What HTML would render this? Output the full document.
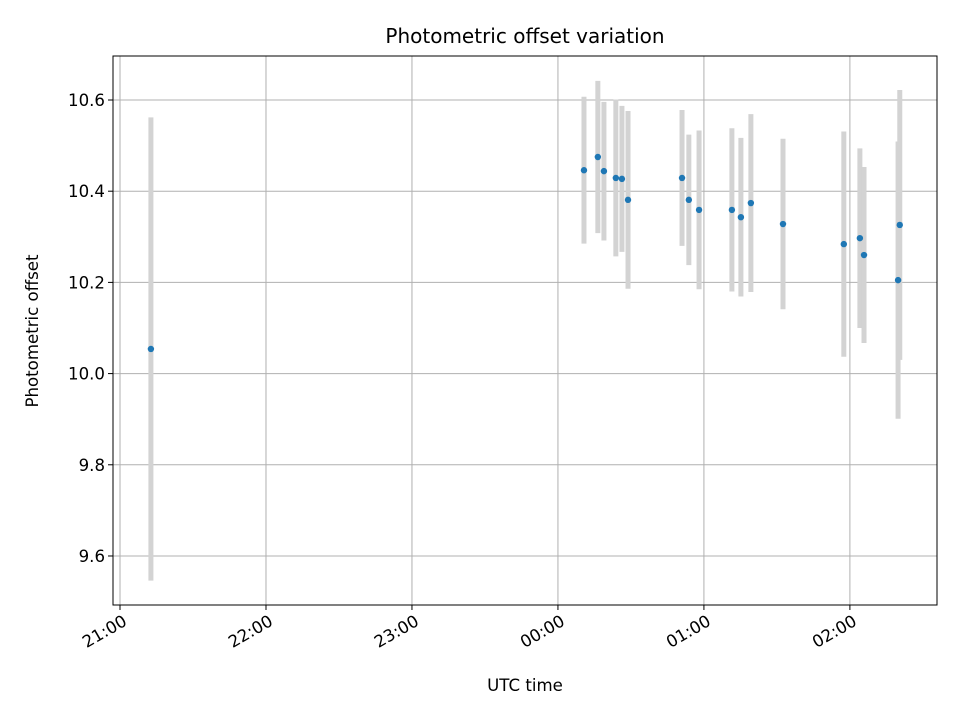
<!DOCTYPE html>
<html><head><meta charset="utf-8"><style>
body{margin:0;background:#fff}
svg text{font-family:"DejaVu Sans","Liberation Sans",sans-serif;fill:#000}
</style></head><body>
<svg id="chart" width="960" height="720" xmlns="http://www.w3.org/2000/svg">
<rect width="960" height="720" fill="#fff"/>
<g id="grid"></g><g id="bars"></g><g id="pts"></g><g id="axes"></g>
<text x="525" y="43" font-size="20" text-anchor="middle">Photometric offset variation</text>
<text x="525" y="691" font-size="16.6" text-anchor="middle">UTC time</text>
<text transform="translate(38,331) rotate(-90)" font-size="16.6" text-anchor="middle">Photometric offset</text>
</svg>
<script>
// minutes after 21:00 UTC
const times=[12.7,190.7,196.4,198.9,203.8,206.3,208.8,231.0,233.8,238.0,251.5,255.2,259.3,272.5,297.5,304.1,305.8,319.8,320.5];
const offsets=[10.054,10.446,10.475,10.444,10.429,10.427,10.381,10.429,10.381,10.359,10.359,10.343,10.374,10.328,10.284,10.297,10.260,10.205,10.326];
const errors=[0.508,0.161,0.167,0.152,0.172,0.160,0.195,0.149,0.143,0.174,0.179,0.174,0.195,0.187,0.247,0.197,0.193,0.304,0.296];
const xTickLabels=["21:00","22:00","23:00","00:00","01:00","02:00"];
const xTickMinutes=[0,60,120,180,240,300];
const yTicks=[9.6,9.8,10.0,10.2,10.4,10.6];

const L=113,R=937,T=56,B=605;
const xMin=-2.88,xMax=335.8,yMin=9.4925,yMax=10.6965;
const X=m=>L+(m-xMin)/(xMax-xMin)*(R-L);
const Y=v=>B-(v-yMin)/(yMax-yMin)*(B-T);
const NS="http://www.w3.org/2000/svg";
function mk(tag,attrs,parent){const e=document.createElementNS(NS,tag);for(const k in attrs)e.setAttribute(k,attrs[k]);document.getElementById(parent).appendChild(e);return e;}

xTickMinutes.forEach((m,i)=>{
  const x=X(m);
  const g=mk('line',{x1:x,x2:x,y1:T,y2:B,stroke:'#b0b0b0','stroke-width':1},'grid');
  
  
  const t=mk('line',{x1:x,x2:x,y1:B,y2:B+5,stroke:'#000','stroke-width':1},'axes');
  
  
  const lb=mk('text',{transform:`translate(${x+2},${B+9}) rotate(-30)`,'font-size':16.6,'text-anchor':'end','dominant-baseline':'hanging'},'axes');
  lb.textContent=xTickLabels[i];
  
  
});
yTicks.forEach(v=>{
  const y=Y(v);
  const g=mk('line',{x1:L,x2:R,y1:y,y2:y,stroke:'#b0b0b0','stroke-width':1},'grid');
  
  
  const t=mk('line',{x1:L-5,x2:L,y1:y,y2:y,stroke:'#000','stroke-width':1},'axes');
  
  
  const lb=mk('text',{x:L-8,y:y+6,'font-size':16.6,'text-anchor':'end'},'axes');
  lb.textContent=v.toFixed(1);
  
  
});
const fr=mk('rect',{x:L,y:T,width:R-L,height:B-T,fill:'none',stroke:'#000','stroke-width':1},'axes');



times.forEach((m,i)=>{
  const x=X(m);
  const b=mk('line',{x1:x,x2:x,y1:Y(offsets[i]+errors[i]),y2:Y(offsets[i]-errors[i]),stroke:'#d3d3d3','stroke-width':5},'bars');
  
  
  const p=mk('circle',{cx:x,cy:Y(offsets[i]),r:3.2,fill:'#1f77b4'},'pts');
  
  
});
</script>
</body></html>
